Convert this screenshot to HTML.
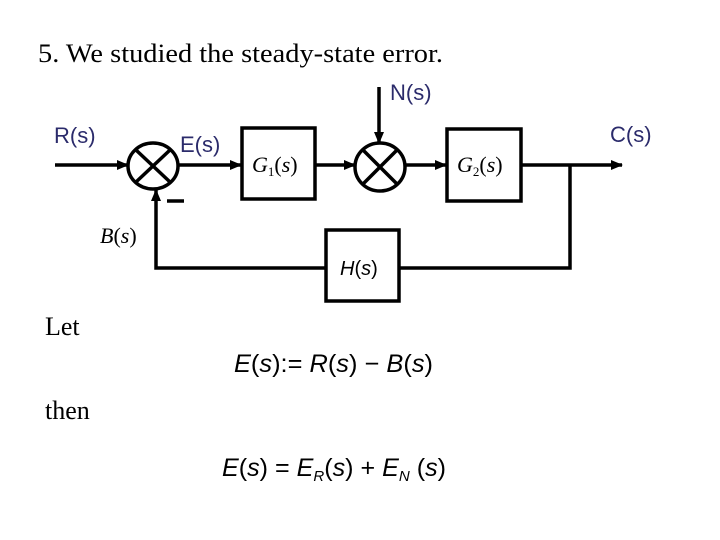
<!DOCTYPE html>
<html><head><meta charset="utf-8"><style>
html,body{margin:0;padding:0;background:#fff;}
svg{display:block;}
</style></head><body>
<svg width="720" height="540" xmlns="http://www.w3.org/2000/svg">
<defs>
<marker id="a" markerWidth="12" markerHeight="10" refX="11" refY="5" orient="auto" markerUnits="userSpaceOnUse">
<path d="M0,0 L12,5 L0,10 Z" fill="#000"/></marker>
</defs>
<text x="38" y="62" font-family="Liberation Serif, serif" font-size="26" textLength="405" lengthAdjust="spacingAndGlyphs">5.  We studied the steady-state error.</text>
<g font-family="Liberation Sans, sans-serif" font-size="22" fill="#2b2b6b">
<text x="390" y="100">N(s)</text>
<text x="54" y="143">R(s)</text>
<text x="180" y="152">E(s)</text>
<text x="610" y="142">C(s)</text>
</g>
<g stroke="#000" stroke-width="3.5" fill="none">
<line x1="55" y1="165" x2="128" y2="165" marker-end="url(#a)"/>
<ellipse cx="153" cy="166" rx="25" ry="23"/>
<line x1="136" y1="150" x2="170" y2="182"/><line x1="170" y1="150" x2="136" y2="182"/>
<line x1="178" y1="165" x2="241" y2="165" marker-end="url(#a)"/>
<rect x="242" y="128" width="73" height="71"/>
<line x1="315" y1="165" x2="355" y2="165" marker-end="url(#a)"/>
<ellipse cx="380" cy="167" rx="25" ry="24"/>
<line x1="363" y1="150" x2="397" y2="184"/><line x1="397" y1="150" x2="363" y2="184"/>
<line x1="379" y1="87" x2="379" y2="143" marker-end="url(#a)"/>
<line x1="405" y1="165" x2="446" y2="165" marker-end="url(#a)"/>
<rect x="447" y="129" width="74" height="72"/>
<line x1="521" y1="165" x2="622" y2="165" marker-end="url(#a)"/>
<polyline points="570,165 570,268 399,268"/>
<rect x="326" y="230" width="73" height="71"/>
<polyline points="326,268 156,268 156,190" marker-end="url(#a)"/>
<line x1="167" y1="201" x2="184" y2="201"/>
</g>
<g font-family="Liberation Serif, serif" font-style="italic" font-size="22">
<text x="252" y="172">G<tspan font-size="13" dy="4" font-style="normal">1</tspan><tspan dy="-4" font-style="normal">(</tspan>s<tspan font-style="normal">)</tspan></text>
<text x="457" y="172">G<tspan font-size="13" dy="4" font-style="normal">2</tspan><tspan dy="-4" font-style="normal">(</tspan>s<tspan font-style="normal">)</tspan></text>
<text x="100" y="243">B<tspan font-style="normal">(</tspan>s<tspan font-style="normal">)</tspan></text>
</g>
<text x="340" y="275" font-family="Liberation Sans, sans-serif" font-style="italic" font-size="20">H<tspan font-style="normal">(</tspan>s<tspan font-style="normal">)</tspan></text>
<text x="45" y="335" font-family="Liberation Serif, serif" font-size="26">Let</text>
<text x="45" y="419" font-family="Liberation Serif, serif" font-size="26">then</text>
<g font-family="Liberation Sans, sans-serif" font-style="italic" font-size="25">
<text x="234" y="372" textLength="199" lengthAdjust="spacingAndGlyphs">E<tspan font-style="normal">(</tspan>s<tspan font-style="normal">):= </tspan>R<tspan font-style="normal">(</tspan>s<tspan font-style="normal">) − </tspan>B<tspan font-style="normal">(</tspan>s<tspan font-style="normal">)</tspan></text>
<text x="222" y="476" textLength="224" lengthAdjust="spacingAndGlyphs">E<tspan font-style="normal">(</tspan>s<tspan font-style="normal">) = </tspan>E<tspan font-size="15" dy="5">R</tspan><tspan dy="-5" font-style="normal">(</tspan>s<tspan font-style="normal">) + </tspan>E<tspan font-size="15" dy="5">N</tspan><tspan dy="-5" font-style="normal"> (</tspan>s<tspan font-style="normal">)</tspan></text>
</g>
</svg>
</body></html>
